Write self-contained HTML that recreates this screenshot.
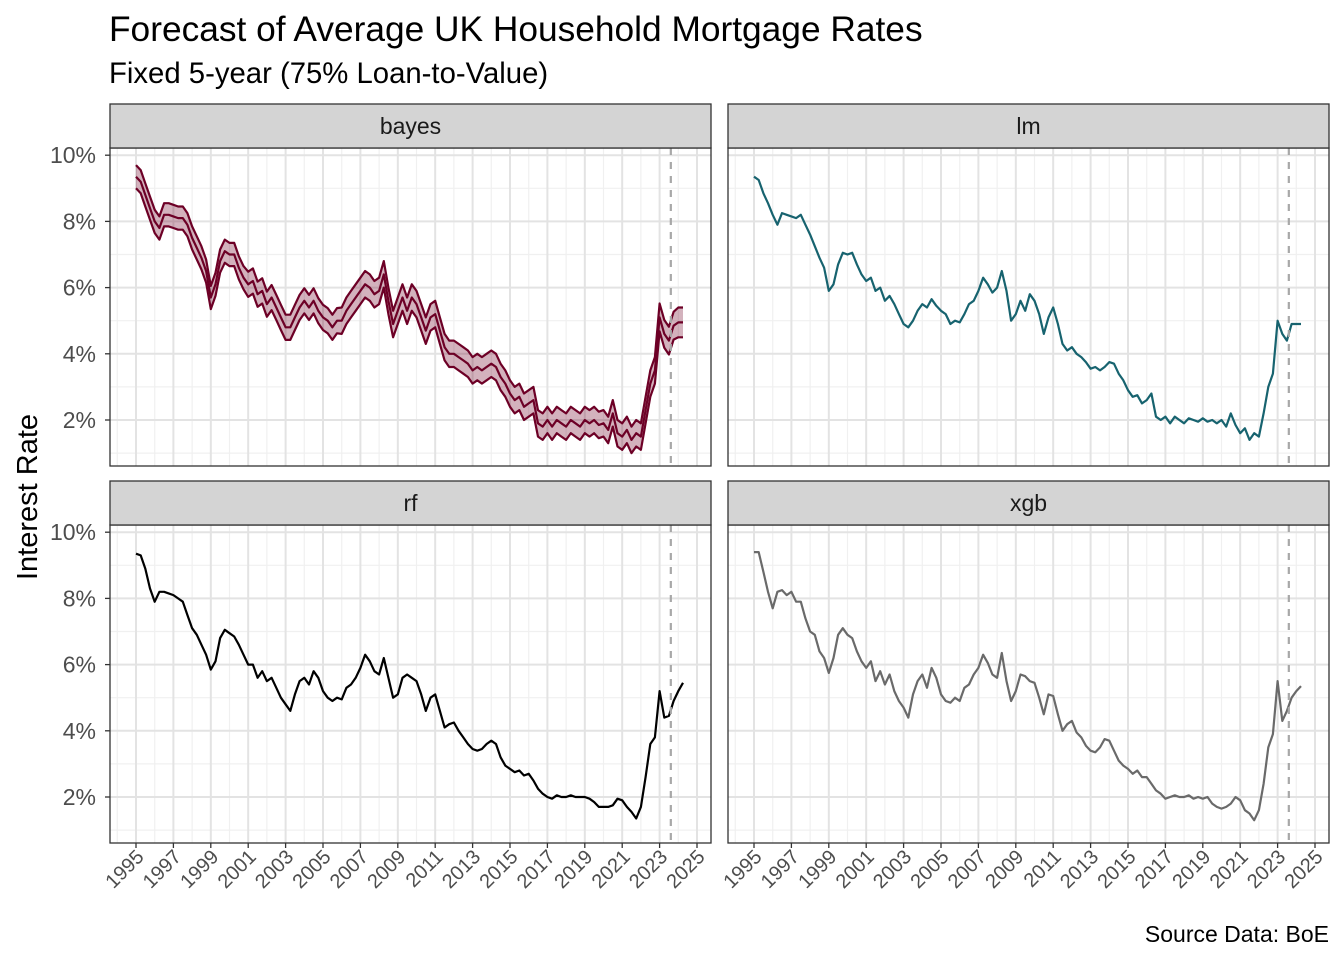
<!DOCTYPE html>
<html><head><meta charset="utf-8"><style>
html,body{margin:0;padding:0;background:#fff;}
svg{display:block;font-family:"Liberation Sans",Arial,sans-serif;}
</style></head><body>
<svg id="chart" width="1344" height="960" viewBox="0 0 1344 960" xmlns="http://www.w3.org/2000/svg">
<rect width="1344" height="960" fill="#fff"/>
<text x="109" y="41" font-size="35.3" fill="#000">Forecast of Average UK Household Mortgage Rates</text>
<text x="109" y="83" font-size="29.3" fill="#000">Fixed 5-year (75% Loan-to-Value)</text>
<text transform="translate(37,497) rotate(-90)" text-anchor="middle" font-size="29" fill="#000">Interest Rate</text>
<text x="1329" y="942" text-anchor="end" font-size="23" fill="#000">Source Data: BoE</text>
<g id="panels"></g>
</svg>
<script>
const startYear = 1995;
const forecastStart = 2023.6;
const xTickLabels = ["1995","1997","1999","2001","2003","2005","2007","2009","2011","2013","2015","2017","2019","2021","2023","2025"];
const yTickValues = [2,4,6,8,10];
const yTickLabels = ["2%","4%","6%","8%","10%"];
const lmValues = [9.35,9.25,8.85,8.55, 8.2,7.9,8.25,8.2, 8.15,8.1,8.2,7.9, 7.6,7.25,6.9,6.6, 5.9,6.1,6.7,7.05, 7.0,7.05,6.7,6.4, 6.2,6.3,5.9,6.0, 5.6,5.75,5.5,5.2, 4.9,4.8,5.0,5.3, 5.5,5.4,5.65,5.45, 5.3,5.2,4.9,5.0, 4.95,5.2,5.5,5.6, 5.9,6.3,6.1,5.85, 6.0,6.5,5.9,5.0, 5.2,5.6,5.3,5.8, 5.6,5.2,4.6,5.1, 5.4,4.9,4.3,4.1, 4.2,4.0,3.9,3.75, 3.55,3.6,3.5,3.6, 3.75,3.7,3.4,3.2, 2.9,2.7,2.75,2.5, 2.6,2.8,2.1,2.0, 2.1,1.9,2.1,2.0, 1.9,2.05,2.0,1.95, 2.05,1.95,2.0,1.9, 2.0,1.8,2.2,1.85, 1.6,1.75,1.4,1.6, 1.5,2.2,3.0,3.4, 5.0,4.6,4.4,4.9, 4.9,4.9];
const bayesMean = [9.35,9.2,8.8,8.4, 8.0,7.8,8.2,8.2, 8.15,8.1,8.1,7.9, 7.5,7.2,6.9,6.5, 5.7,6.1,6.8,7.1, 7.0,7.0,6.6,6.3, 6.1,6.2,5.8,5.9, 5.5,5.7,5.4,5.1, 4.8,4.8,5.1,5.4, 5.6,5.4,5.6,5.3, 5.1,5.0,4.8,5.0, 5.0,5.3,5.5,5.7, 5.9,6.1,6.0,5.8, 5.9,6.4,5.6,4.9, 5.3,5.7,5.3,5.7, 5.5,5.1,4.7,5.1, 5.2,4.7,4.2,4.0, 4.0,3.9,3.8,3.7, 3.5,3.6,3.5,3.6, 3.7,3.6,3.3,3.1, 2.8,2.6,2.7,2.4, 2.5,2.6,1.9,1.8, 2.0,1.8,2.0,1.9, 1.8,2.0,1.9,1.8, 2.0,1.9,2.0,1.85, 1.9,1.7,2.2,1.6, 1.5,1.7,1.4,1.6, 1.5,2.3,3.1,3.5, 5.1,4.6,4.4,4.85, 4.95,4.95];
const bayesHalfWidth = [0.35,0.35,0.35,0.35,0.35,0.35,0.38,0.38,0.38,0.38,0.38,0.4,0.4,0.4,0.4,0.4,0.4,0.4,0.4,0.4,0.4,0.4,0.4,0.4,0.4,0.4,0.4,0.4,0.42,0.45];
const rfValues = [9.35,9.3,8.9,8.3, 7.9,8.2,8.2,8.15, 8.1,8.0,7.9,7.5, 7.1,6.9,6.6,6.3, 5.85,6.1,6.8,7.05, 6.95,6.85,6.6,6.3, 6.0,6.0,5.6,5.8, 5.5,5.6,5.3,5.0, 4.8,4.6,5.1,5.5, 5.6,5.4,5.8,5.6, 5.2,5.0,4.9,5.0, 4.95,5.3,5.4,5.6, 5.9,6.3,6.1,5.8, 5.7,6.2,5.6,5.0, 5.1,5.6,5.7,5.6, 5.5,5.1,4.6,5.0, 5.1,4.6,4.1,4.2, 4.25,4.0,3.8,3.6, 3.45,3.4,3.45,3.6, 3.7,3.6,3.2,2.95, 2.85,2.75,2.8,2.65, 2.7,2.5,2.25,2.1, 2.0,1.95,2.05,2.0, 2.0,2.05,2.0,2.0, 2.0,1.95,1.85,1.7, 1.7,1.7,1.75,1.95, 1.9,1.7,1.55,1.35, 1.7,2.6,3.6,3.8, 5.2,4.4,4.45,4.9, 5.2,5.45];
const xgbValues = [9.4,9.4,8.8,8.2, 7.7,8.2,8.25,8.1, 8.2,7.9,7.9,7.4, 7.0,6.9,6.4,6.2, 5.75,6.2,6.9,7.1, 6.9,6.8,6.4,6.1, 5.9,6.1,5.5,5.8, 5.4,5.7,5.2,4.9, 4.7,4.4,5.1,5.5, 5.7,5.3,5.9,5.6, 5.1,4.9,4.85,5.0, 4.9,5.3,5.4,5.7, 5.9,6.3,6.05,5.7, 5.6,6.35,5.5,4.9, 5.2,5.7,5.65,5.5, 5.45,5.0,4.5,5.1, 5.05,4.5,4.0,4.2, 4.3,3.95,3.8,3.55, 3.4,3.35,3.5,3.75, 3.7,3.4,3.1,2.95, 2.85,2.7,2.8,2.6, 2.6,2.4,2.2,2.1, 1.95,2.0,2.05,2.0, 2.0,2.05,1.95,2.0, 1.95,2.0,1.8,1.7, 1.65,1.7,1.8,2.0, 1.9,1.6,1.5,1.3, 1.6,2.4,3.5,3.9, 5.5,4.3,4.6,5.0, 5.2,5.35];

const NS = "http://www.w3.org/2000/svg";
const root = document.getElementById("panels");
function mk(tag, attrs, parent){const e=document.createElementNS(NS,tag);for(const k in attrs)e.setAttribute(k,attrs[k]);(parent||root).appendChild(e);return e;}

const PX = 18.7, PY = 33.1;
function makeX(left){return yr => left + 26 + (yr - startYear) * PX;}
function makeY(top){return v => top + 272 - (v - 2) * PY;}
function yearOf(i){return startYear + i * 0.25;}
function pathFrom(vals, sx, sy){return vals.map((v,i)=>(i?"L":"M")+sx(yearOf(i)).toFixed(1)+","+sy(v).toFixed(1)).join("");}

const panels = [
  {name:"bayes", left:110, top:148, bottomAxis:false, leftAxis:true},
  {name:"lm", left:728, top:148, bottomAxis:false, leftAxis:false},
  {name:"rf", left:110, top:525, bottomAxis:true, leftAxis:true},
  {name:"xgb", left:728, top:525, bottomAxis:true, leftAxis:false}
];
const W = 601, H = 318;

panels.forEach(p => {
  const g = mk("g", {});
  
  
  const sx = makeX(p.left), sy = makeY(p.top);
  mk("rect",{x:p.left,y:p.top,width:W,height:H,fill:"#fff"},g);
  for(let yr=startYear-1; yr<=2026; yr++){const x=sx(yr); if(x>p.left&&x<p.left+W) mk("line",{x1:x,x2:x,y1:p.top,y2:p.top+H,stroke:"#f0f0f0","stroke-width":1.2},g);}
  for(let v=1; v<=11; v+=2){const y=sy(v); if(y>p.top&&y<p.top+H) mk("line",{x1:p.left,x2:p.left+W,y1:y,y2:y,stroke:"#f0f0f0","stroke-width":1.2},g);}
  xTickLabels.forEach(t=>{const x=sx(+t); mk("line",{x1:x,x2:x,y1:p.top,y2:p.top+H,stroke:"#e3e3e3","stroke-width":2},g);});
  yTickValues.forEach(v=>{const y=sy(v); mk("line",{x1:p.left,x2:p.left+W,y1:y,y2:y,stroke:"#e3e3e3","stroke-width":2},g);});
  if(p.name==="bayes"){
    const upper = bayesMean.map((v,i)=>v + bayesHalfWidth[Math.min(bayesHalfWidth.length-1, Math.floor(yearOf(i)-startYear))]);
    const lower = bayesMean.map((v,i)=>v - bayesHalfWidth[Math.min(bayesHalfWidth.length-1, Math.floor(yearOf(i)-startYear))]);
    let d = pathFrom(upper,sx,sy);
    for(let i=lower.length-1;i>=0;i--) d += "L"+sx(yearOf(i)).toFixed(1)+","+sy(lower[i]).toFixed(1);
    const band = mk("path",{d:d+"Z",fill:"#6d0026","fill-opacity":0.3,stroke:"none"},g);
    
    
    [["bayes-upper-line",upper],["bayes-mean-line",bayesMean],["bayes-lower-line",lower]].forEach(([n,vals])=>{
      const l = mk("path",{d:pathFrom(vals,sx,sy),fill:"none",stroke:"#6d0026","stroke-width":2.2,"stroke-linejoin":"round"},g);
      
      
    });
  } else {
    const vals = p.name==="lm"?lmValues:p.name==="rf"?rfValues:xgbValues;
    const col = p.name==="lm"?"#17636f":p.name==="rf"?"#000000":"#6a6a6a";
    const l = mk("path",{d:pathFrom(vals,sx,sy),fill:"none",stroke:col,"stroke-width":2.2,"stroke-linejoin":"round"},g);
    
    
  }
  const dl = mk("line",{x1:sx(forecastStart),x2:sx(forecastStart),y1:p.top,y2:p.top+H,stroke:"#a8a8a8","stroke-width":2.2,"stroke-dasharray":"7,7"},g);
  
  
  mk("rect",{x:p.left,y:p.top,width:W,height:H,fill:"none",stroke:"#333","stroke-width":1.3},g);
  const st = mk("rect",{x:p.left,y:p.top-44,width:W,height:44,fill:"#d4d4d4",stroke:"#333","stroke-width":1.3},g);
  
  
  const stt = mk("text",{x:p.left+W/2,y:p.top-14,"text-anchor":"middle","font-size":23,fill:"#1a1a1a"},g);
  stt.textContent = p.name;
  
  
  if(p.leftAxis){
    yTickValues.forEach((v,i)=>{const y=sy(v);
      mk("line",{x1:p.left-5,x2:p.left,y1:y,y2:y,stroke:"#333","stroke-width":1.3},g);
      const t=mk("text",{x:p.left-14,y:y+8,"text-anchor":"end","font-size":23,fill:"#4d4d4d"},g);
      t.textContent=yTickLabels[i];
      
      
    });
  }
  if(p.bottomAxis){
    xTickLabels.forEach(lbl=>{const x=sx(+lbl);
      mk("line",{x1:x,x2:x,y1:p.top+H,y2:p.top+H+5,stroke:"#333","stroke-width":1.3},g);
      const t=mk("text",{transform:"translate("+(x+9)+","+(p.top+H+15)+") rotate(-45)","text-anchor":"end","font-size":20,fill:"#4d4d4d"},g);
      t.textContent=lbl;
      
      
    });
  }
});
</script>
</body></html>
